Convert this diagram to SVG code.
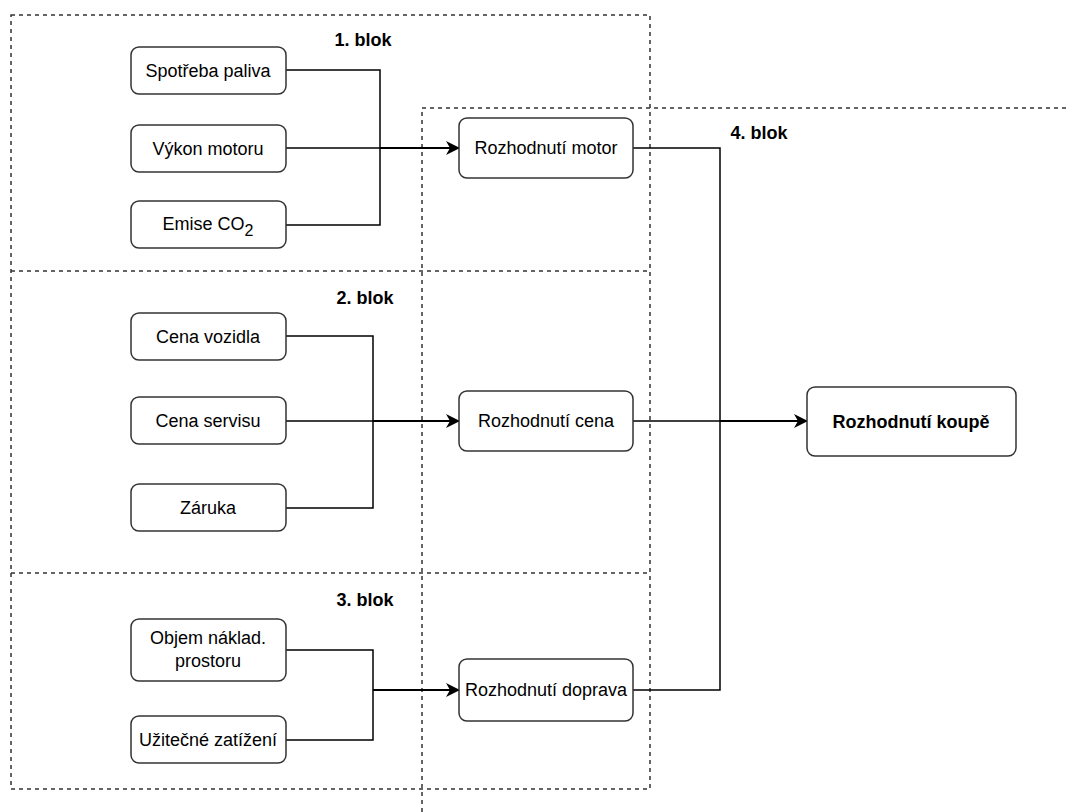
<svg xmlns="http://www.w3.org/2000/svg" width="1070" height="812" viewBox="0 0 1070 812">
<style>
.dash{fill:none;stroke:#333;stroke-width:1.5;stroke-dasharray:4 4}
.box{fill:#fff;stroke:#333;stroke-width:1.5}
.t{font-family:"Liberation Sans",Arial,sans-serif;font-size:18px;fill:#000;text-anchor:middle}
.b{font-weight:bold}
.ln{fill:none;stroke:#000;stroke-width:1.5}
.arr{stroke-width:2;marker-end:url(#ah)}
</style>
<defs>
<marker id="ah" markerWidth="14" markerHeight="14" refX="13" refY="7" orient="auto" markerUnits="userSpaceOnUse">
<path d="M0,0 L14,7 L0,14 L4,7 Z" fill="#000"/>
</marker>
</defs>
<rect width="1070" height="812" fill="#fff"/>
<g id="blocks">
<rect class="dash" x="11" y="15" width="639" height="774"/>
<line class="dash" x1="11" y1="271" x2="650" y2="271"/>
<line class="dash" x1="11" y1="573" x2="650" y2="573"/>
<path class="dash" d="M422,812 L422,108 L1070,108"/>
<text class="t b" x="363" y="46">1. blok</text>
<text class="t b" x="365" y="304">2. blok</text>
<text class="t b" x="365" y="606">3. blok</text>
<text class="t b" x="759" y="139">4. blok</text>
</g>
<g id="connectors">
<path class="ln" d="M286,70 H380 V225 H286"/>
<path class="ln" d="M286,148 H380"/>
<path class="ln arr" d="M380,148 H459"/>
<path class="ln" d="M286,336 H373 V508 H286"/>
<path class="ln" d="M286,421 H373"/>
<path class="ln arr" d="M373,421 H459"/>
<path class="ln" d="M286,650 H373 V740 H286"/>
<path class="ln arr" d="M373,690 H459"/>
<path class="ln" d="M633,148 H720 V690 H633"/>
<path class="ln" d="M633,421 H720"/>
<path class="ln arr" d="M720,421 H807"/>
</g>
<g id="n-spotreba"><rect class="box" x="131" y="47" width="155" height="47" rx="8"/><text class="t" x="208" y="77">Spotřeba paliva</text></g>
<g id="n-vykon"><rect class="box" x="131" y="125" width="155" height="47" rx="8"/><text class="t" x="208" y="155">Výkon motoru</text></g>
<g id="n-emise"><rect class="box" x="131" y="201" width="155" height="47" rx="8"/><text class="t" x="208" y="230">Emise CO<tspan dy="6" font-size="16">2</tspan></text></g>
<g id="n-cenavoz"><rect class="box" x="131" y="313" width="155" height="47" rx="8"/><text class="t" x="208" y="343">Cena vozidla</text></g>
<g id="n-cenaserv"><rect class="box" x="131" y="397" width="155" height="47" rx="8"/><text class="t" x="208" y="427">Cena servisu</text></g>
<g id="n-zaruka"><rect class="box" x="131" y="484" width="155" height="47" rx="8"/><text class="t" x="208" y="514">Záruka</text></g>
<g id="n-objem"><rect class="box" x="131" y="619" width="155" height="62" rx="8"/><text class="t" x="208" y="644">Objem náklad.</text><text class="t" x="208" y="667">prostoru</text></g>
<g id="n-uzitecne"><rect class="box" x="131" y="716" width="155" height="47" rx="8"/><text class="t" x="208" y="746">Užitečné zatížení</text></g>
<g id="n-motor"><rect class="box" x="459" y="118" width="174" height="60" rx="8"/><text class="t" x="546" y="154">Rozhodnutí motor</text></g>
<g id="n-cena"><rect class="box" x="459" y="391" width="174" height="60" rx="8"/><text class="t" x="546" y="427">Rozhodnutí cena</text></g>
<g id="n-doprava"><rect class="box" x="459" y="659" width="174" height="62" rx="8"/><text class="t" x="546" y="696">Rozhodnutí doprava</text></g>
<g id="n-koupe"><rect class="box" x="807" y="387" width="209" height="69" rx="8"/><text class="t b" x="911" y="428">Rozhodnutí koupě</text></g>
</svg>
